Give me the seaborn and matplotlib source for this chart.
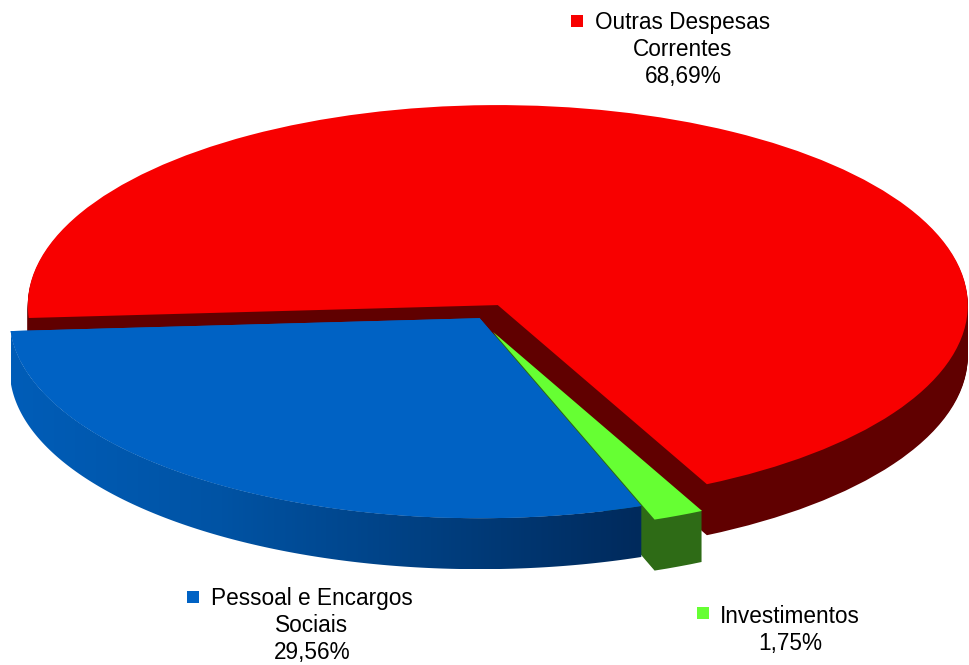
import numpy as np
import seaborn as sns
import matplotlib
matplotlib.use("Agg")
import matplotlib.pyplot as plt
from matplotlib.patches import Polygon

categories = ["Pessoal e Encargos\nSociais", "Investimentos", "Outras Despesas\nCorrentes"]
values = [29.56, 1.75, 68.69]
value_labels = ["29,56%", "1,75%", "68,69%"]

top_colors = ["#0062C4", "#66FF33", "#F80000"]
side_colors = ["#0055A8", "#2E6B16", "#600000"]
explode = [0.013, 0.075, 0.063]

W, H = 969, 665
RX, RY = 470.0, 200.0      # pixels per data unit, this squashes the pie
CX, CY = 483.0, 316.0      # pie origin in pixels
DEPTH = 51
GREEN_DX, GREEN_DY = -4 / RX, -2 / RY   # nudge so the green slice sits on the blue edge

sns.set_theme(style="white")
plt.rcParams["font.family"] = ["Liberation Sans", "DejaVu Sans"]

fig = plt.figure(figsize=(W / 100, H / 100), dpi=100)
ax = fig.add_axes([0, 0, 1, 1])


def layer(show, center=(0, 0), colors=top_colors):
    cols = [c if i in show else "none" for i, c in enumerate(colors)]
    return ax.pie(values, explode=explode, colors=cols, startangle=183.7,
                  center=center, radius=1, wedgeprops={"linewidth": 0})[0]


# sides, back to front: red, green, then blue with its gradient
for d in range(DEPTH, 0, -1):
    layer([2], (0, -d / RY), side_colors)
for d in range(DEPTH, 0, -1):
    layer([1], (GREEN_DX, GREEN_DY - d / RY), side_colors)

# blue side is only the outer arc band
wedge = layer([0])[0]
t = np.radians(np.linspace(wedge.theta1, wedge.theta2, 200))
cx, cy = wedge.center
xs, ys = cx + np.cos(t), cy + np.sin(t)
band = np.r_[np.c_[xs, ys], np.c_[xs, ys - DEPTH / RY][::-1]]
clip = Polygon(band, closed=True, transform=ax.transData, facecolor="none", edgecolor="none")
ax.add_patch(clip)
cmap = sns.blend_palette(["#005DB8", "#0053A4", "#003F80", "#002A5C"], as_cmap=True)
grad = ax.imshow(np.linspace(0, 1, 256)[None, :], cmap=cmap, aspect="auto",
                 extent=(xs.min(), xs.max(), ys.min() - DEPTH / RY, ys.max()), zorder=1)
grad.set_clip_path(clip)

# top faces
layer([2])
for w in layer([0]) + layer([1], (GREEN_DX, GREEN_DY)):
    w.set_zorder(2)

ax.set_aspect("auto")
ax.set_xlim(-CX / RX, (W - CX) / RX)
ax.set_ylim((CY - H) / RY, CY / RY)
ax.axis("off")

# labels with their small squares, in figure pixels
label_pos = [(312, 625.5), (790, 630), (683, 49.5)]
swatch_pos = [(193, 597), (703, 613), (577, 21)]
for name, val, col, (lx, ly), (sx, sy) in zip(categories, value_labels, top_colors, label_pos, swatch_pos):
    fig.text(lx / W, 1 - ly / H, name + "\n" + val, ha="center", va="center",
             fontsize=16.3, color="black", linespacing=1.25)
    ax.scatter([sx / W], [1 - sy / H], s=64, marker="s", color=col, linewidths=0,
               transform=fig.transFigure, clip_on=False, zorder=5)

fig.savefig("out.png", dpi=100, facecolor="white")
